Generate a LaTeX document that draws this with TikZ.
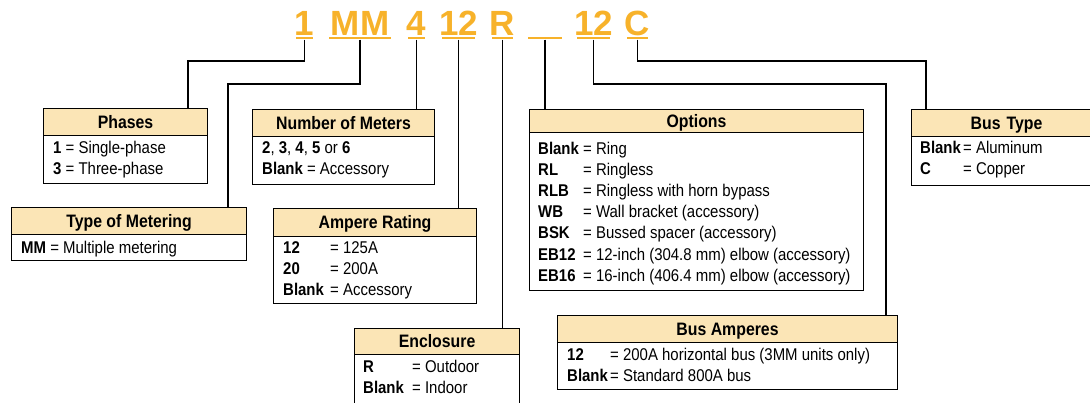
\documentclass[tikz,border=0pt]{standalone}
\usepackage{fontspec}
\setmainfont{Liberation Sans}
\newfontfamily\condfont[FakeStretch=0.88]{Liberation Sans}
\definecolor{codeor}{RGB}{247,178,42}
\definecolor{hdrfill}{RGB}{251,229,182}
\begin{document}
\begin{tikzpicture}[x=1pt,y=-1pt,
 code/.style={text=codeor, font=\fontsize{35}{35}\selectfont\bfseries, inner sep=0pt, anchor=base},
 uline/.style={fill=codeor, minimum height=2.6pt, inner sep=0pt, draw=none},
 hdr/.style={draw=black, line width=1.1pt, fill=hdrfill, inner sep=0pt, anchor=north west, font=\condfont\fontsize{18}{18}\selectfont\bfseries, text height=12.5pt, text depth=0pt},
 bodybox/.style={draw=black, line width=1.1pt, inner sep=0pt, anchor=north west},
 txt/.style={anchor=base west, inner sep=0pt, font=\condfont\fontsize{17}{17}\selectfont},
 conn/.style={draw=black, line width=1.7pt}
]
\useasboundingbox[fill=white] (0,0) rectangle (1090,402);

% ---------- code characters ----------
\node[code] (t1)  at (304.5,35) {1};
\node[code] (tMM) at (360,35) {MM};
\node[code] (t4)  at (416.5,35) {4};
\node[code] (t12a) at (458.5,35) {12};
\node[code] (tR)  at (502.5,35) {R};
\node[code] (t12b) at (593.5,35) {12};
\node[code] (tC)  at (637.5,35) {C};

\node[uline, minimum width=17pt] (u1) at (304.5,38) {};
\node[uline, minimum width=62pt] (uMM) at (360,38) {};
\node[uline, minimum width=17pt] (u4) at (416.5,38) {};
\node[uline, minimum width=33pt] (u12a) at (458.5,38) {};
\node[uline, minimum width=21pt] (uR) at (502.5,38) {};
\node[uline, minimum width=34pt] (uB) at (545,38) {};
\node[uline, minimum width=33pt] (u12b) at (593.5,38) {};
\node[uline, minimum width=21pt] (uC) at (637.5,38) {};

% ---------- Phases ----------
\node[bodybox, minimum width=164pt, minimum height=48pt] (bPh) at (43,135) {};
\node[hdr, minimum width=164pt, minimum height=27pt] (hPh) at (43,108) {Phases};
\node[txt] (p1) at (53,153) {\textbf{1} = Single-phase};
\node[txt] (p2) at (53,174) {\textbf{3} = Three-phase};

% ---------- Type of Metering ----------
\node[bodybox, minimum width=235pt, minimum height=26pt] (bTM) at (11,234) {};
\node[hdr, minimum width=235pt, minimum height=27pt] (hTM) at (11,207) {Type of Metering};
\node[txt] (m1) at (21,253) {\textbf{MM} = Multiple metering};

% ---------- Number of Meters ----------
\node[bodybox, minimum width=182pt, minimum height=48pt] (bNM) at (252,136) {};
\node[hdr, minimum width=182pt, minimum height=27pt] (hNM) at (252,109) {Number of Meters};
\node[txt] (n1) at (262,153) {\textbf{2}, \textbf{3}, \textbf{4}, \textbf{5} or \textbf{6}};
\node[txt] (n2) at (262,174) {\textbf{Blank} = Accessory};

% ---------- Ampere Rating ----------
\node[bodybox, minimum width=203pt, minimum height=67pt] (bAR) at (273,236) {};
\node[hdr, minimum width=203pt, minimum height=28pt] (hAR) at (273,208) {Ampere Rating};
\node[txt] (a1c) at (283,253) {\textbf{12}};
\node[txt] (a1e) at (330,253) {= 125A};
\node[txt] (a2c) at (283,274) {\textbf{20}};
\node[txt] (a2e) at (330,274) {= 200A};
\node[txt] (a3c) at (283,295) {\textbf{Blank}};
\node[txt] (a3e) at (330,295) {= Accessory};

% ---------- Enclosure ----------
\node[bodybox, minimum width=165pt, minimum height=52pt] (bEn) at (354,354) {};
\node[hdr, minimum width=165pt, minimum height=26pt] (hEn) at (354,328) {Enclosure};
\node[txt] (e1c) at (363,372) {\textbf{R}};
\node[txt] (e1e) at (412,372) {= Outdoor};
\node[txt] (e2c) at (363,393) {\textbf{Blank}};
\node[txt] (e2e) at (412,393) {= Indoor};

% ---------- Options ----------
\node[bodybox, minimum width=334pt, minimum height=158pt] (bOp) at (529,132) {};
\node[hdr, minimum width=334pt, minimum height=23pt] (hOp) at (529,109) {Options};
\node[txt] (o1c) at (538,154) {\textbf{Blank}};
\node[txt] (o1e) at (583,154) {= Ring};
\node[txt] (o2c) at (538,175) {\textbf{RL}};
\node[txt] (o2e) at (583,175) {= Ringless};
\node[txt] (o3c) at (538,196) {\textbf{RLB}};
\node[txt] (o3e) at (583,196) {= Ringless with horn bypass};
\node[txt] (o4c) at (538,217) {\textbf{WB}};
\node[txt] (o4e) at (583,217) {= Wall bracket (accessory)};
\node[txt] (o5c) at (538,238) {\textbf{BSK}};
\node[txt] (o5e) at (583,238) {= Bussed spacer (accessory)};
\node[txt] (o6c) at (538,260) {\textbf{EB12}};
\node[txt] (o6e) at (583,260) {= 12-inch (304.8 mm) elbow (accessory)};
\node[txt] (o7c) at (538,281) {\textbf{EB16}};
\node[txt] (o7e) at (583,281) {= 16-inch (406.4 mm) elbow (accessory)};

% ---------- Bus Amperes ----------
\node[bodybox, minimum width=340pt, minimum height=47pt] (bBA) at (557,342) {};
\node[hdr, minimum width=340pt, minimum height=27pt] (hBA) at (557,315) {Bus Amperes};
\node[txt] (ba1c) at (567,360) {\textbf{12}};
\node[txt] (ba1e) at (610,360) {= 200A horizontal bus (3MM units only)};
\node[txt] (ba2c) at (567,381) {\textbf{Blank}};
\node[txt] (ba2e) at (610,381) {= Standard 800A bus};

% ---------- Bus Type ----------
\node[bodybox, minimum width=190pt, minimum height=49pt] (bBT) at (911,136) {};
\node[hdr, minimum width=190pt, minimum height=27pt, text width=171pt, align=center] (hBT) at (911,109) {Bus Type};
\node[txt] (bt1c) at (920,153) {\textbf{Blank}};
\node[txt] (bt1e) at (963,153) {= Aluminum};
\node[txt] (bt2c) at (920,174) {\textbf{C}};
\node[txt] (bt2e) at (963,174) {= Copper};

% ---------- connectors ----------
\coordinate (k1) at (188,61);
\coordinate (k2) at (228,84);
\coordinate (k3) at (886,84);
\coordinate (k4) at (926,61);
\draw[conn] (u1.south) |- (k1) -- (k1 |- hPh.north);
\draw[conn] (uMM.south) |- (k2) -- (k2 |- hTM.north);
\draw[conn] (u4.south) -- (u4.south |- hNM.north);
\draw[conn] (u12a.south) -- (u12a.south |- hAR.north);
\draw[conn] (uR.south) -- (uR.south |- hEn.north);
\draw[conn] (uB.south) -- (uB.south |- hOp.north);
\draw[conn] (u12b.south) |- (k3) -- (k3 |- hBA.north);
\draw[conn] (uC.south) |- (k4) -- (k4 |- hBT.north);
\end{tikzpicture}
\end{document}
